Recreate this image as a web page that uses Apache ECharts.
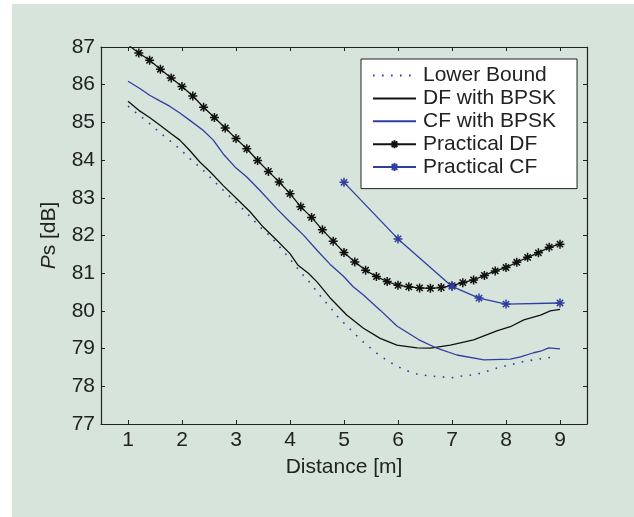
<!DOCTYPE html>
<html>
<head>
    <meta charset="utf-8">
    <title>Ps vs distance</title>
    <script src="https://cdn.jsdelivr.net/npm/echarts@6/dist/echarts.min.js"></script>
    <style>
        body { margin: 0; background: #fff; }
        #wrap { position: relative; width: 634px; height: 517px; }
        #panel { position: absolute; left: 12px; top: 4px; right: 0; bottom: 0; background: #d6e4db; }
        #main { position: absolute; left: 0; top: 0; width: 634px; height: 517px; }
    </style>
</head>
<body>
<div id="wrap">
    <div id="panel"></div>
    <div id="main"></div>
</div>
<script type="text/javascript">
    // tick labels
    var xTicks = [1, 2, 3, 4, 5, 6, 7, 8, 9];
    var yTicks = [77, 78, 79, 80, 81, 82, 83, 84, 85, 86, 87];

    var names = ['Lower Bound', 'DF with BPSK', 'CF with BPSK', 'Practical DF', 'Practical CF'];

    // Lower Bound (dotted)
    var lbX = [1.0, 1.17, 1.34, 1.51, 1.69, 1.86, 2.03, 2.19, 2.35, 2.51, 2.67, 2.83, 2.99, 3.15, 3.30, 3.46,
        3.63, 3.77, 3.92, 4.06, 4.20, 4.35, 4.49, 4.63, 4.77, 4.91, 5.07, 5.23, 5.39, 5.56, 5.73, 5.92,
        6.13, 6.34, 6.55, 6.78, 7.0, 7.22, 7.44, 7.65, 7.86, 8.08, 8.30, 8.51, 8.74, 8.95];
    var lbY = [85.43, 85.23, 85.04, 84.83, 84.61, 84.42, 84.20, 83.98, 83.79, 83.56, 83.33, 83.11, 82.89, 82.67, 82.44, 82.21,
        81.99, 81.76, 81.51, 81.27, 81.02, 80.78, 80.53, 80.28, 80.05, 79.80, 79.58, 79.35, 79.13, 78.93, 78.75, 78.58,
        78.43, 78.33, 78.28, 78.25, 78.23, 78.28, 78.31, 78.40, 78.50, 78.57, 78.65, 78.70, 78.75, 78.79];

    // DF with BPSK
    var dfX = [1.0, 1.2, 1.4, 1.6, 1.8, 1.96, 2.14, 2.33, 2.52, 2.76, 3.01, 3.26, 3.5, 3.75, 4.0, 4.15, 4.34,
        4.5, 4.74, 5.05, 5.36, 5.67, 5.98, 6.35, 6.6, 6.97, 7.4, 7.83, 8.08, 8.33, 8.64, 8.82, 9.0];
    var dfY = [85.56, 85.32, 85.13, 84.92, 84.70, 84.53, 84.26, 83.95, 83.69, 83.33, 82.98, 82.63, 82.23, 81.88, 81.52, 81.21, 81.00,
        80.77, 80.35, 79.89, 79.54, 79.27, 79.09, 79.02, 79.01, 79.09, 79.23, 79.47, 79.58, 79.76, 79.89, 80.00, 80.04];

    // CF with BPSK
    var cfX = [1.0, 1.22, 1.4, 1.59, 1.77, 1.96, 2.14, 2.39, 2.58, 2.76, 2.98, 3.2, 3.44, 3.75, 4.0, 4.25, 4.5,
        4.74, 4.99, 5.17, 5.36, 5.67, 5.98, 6.38, 6.72, 7.09, 7.59, 8.08, 8.27, 8.51, 8.64, 8.79, 9.0];
    var cfY = [86.09, 85.90, 85.72, 85.57, 85.43, 85.25, 85.06, 84.79, 84.53, 84.17, 83.82, 83.55, 83.20, 82.72, 82.36, 82.01, 81.61,
        81.24, 80.92, 80.64, 80.42, 80.02, 79.60, 79.24, 79.01, 78.83, 78.70, 78.72, 78.78, 78.89, 78.93, 79.02, 78.99];

    // Practical DF (stars)
    var pdfX = [1.0, 1.2, 1.4, 1.6, 1.8, 2.0, 2.2, 2.4, 2.6, 2.8, 3.0, 3.2, 3.4, 3.6, 3.8, 4.0, 4.2, 4.4, 4.6, 4.8,
        5.0, 5.2, 5.4, 5.6, 5.8, 6.0, 6.2, 6.4, 6.6, 6.8, 7.0, 7.2, 7.4, 7.6, 7.8, 8.0, 8.2, 8.4, 8.6, 8.8, 9.0];
    var pdfY = [87.06, 86.84, 86.65, 86.41, 86.18, 85.95, 85.70, 85.40, 85.13, 84.85, 84.57, 84.30, 83.99, 83.70, 83.42, 83.11,
        82.76, 82.48, 82.15, 81.85, 81.55, 81.30, 81.08, 80.91, 80.78, 80.68, 80.64, 80.61, 80.60, 80.62, 80.67,
        80.75, 80.82, 80.94, 81.06, 81.15, 81.29, 81.42, 81.54, 81.69, 81.77];

    // Practical CF (stars)
    var pcfX = [5, 6, 7, 7.5, 8, 9];
    var pcfY = [83.41, 81.91, 80.65, 80.34, 80.18, 80.21];

    function zip(xs, ys) {
        return xs.map(function (x, i) { return [x, ys[i]]; });
    }

    var font = "'Liberation Sans', Arial, Helvetica, sans-serif";
    var ink = '#222';
    var blue = '#2f3ea0';
    var star = 'path://M5,0L5,10M0,5L10,5M1.5,1.5L8.5,8.5M1.5,8.5L8.5,1.5';

    // legend entries: plain lines get no marker
    var legendData = names.map(function (n, i) {
        return i < 3 ? { name: n, itemStyle: { opacity: 0 } } : { name: n };
    });

    var myChart = echarts.init(document.getElementById('main'));
    myChart.setOption({
        animation: false,
        backgroundColor: 'transparent',
        grid: { left: 101, top: 47, right: 47, bottom: 93 },
        legend: {
            left: 361,
            top: 59,
            orient: 'vertical',
            padding: [6, 21, 11, 11],
            itemGap: 1.9,
            itemWidth: 43,
            itemHeight: 10,
            backgroundColor: '#fff',
            borderColor: ink,
            borderWidth: 1,
            borderRadius: 0,
            textStyle: { color: ink, fontSize: 21, fontFamily: font, padding: [0, 0, 0, 2] },
            data: legendData
        },
        xAxis: [{
            type: 'value',
            min: 0.5,
            max: 9.5,
            name: 'Distance [m]',
            nameLocation: 'middle',
            nameGap: 33,
            nameTextStyle: { color: ink, fontSize: 21, fontFamily: font },
            axisLine: { lineStyle: { color: ink, width: 1.2 } },
            axisTick: { inside: true, length: 4, customValues: xTicks, lineStyle: { color: ink } },
            axisLabel: { customValues: xTicks, color: ink, fontSize: 21, fontFamily: font, margin: 6 },
            splitLine: { show: false }
        }, {
            type: 'value',
            position: 'top',
            min: 0.5,
            max: 9.5,
            axisLine: { lineStyle: { color: ink, width: 1.2 } },
            axisTick: { inside: true, length: 4, customValues: xTicks, lineStyle: { color: ink } },
            axisLabel: { show: false },
            splitLine: { show: false }
        }],
        yAxis: [{
            type: 'value',
            min: yTicks[0],
            max: yTicks[yTicks.length - 1],
            interval: 1,
            name: '{i|P}s [dB]',
            nameLocation: 'middle',
            nameRotate: 90,
            nameGap: 41,
            nameTextStyle: {
                color: ink, fontSize: 21, fontFamily: font,
                rich: { i: { fontStyle: 'italic', color: ink, fontSize: 21, fontFamily: font } }
            },
            axisLine: { lineStyle: { color: ink, width: 1.2 } },
            axisTick: { inside: true, length: 4, lineStyle: { color: ink } },
            axisLabel: { color: ink, fontSize: 21, fontFamily: font, margin: 6 },
            splitLine: { show: false }
        }, {
            type: 'value',
            position: 'right',
            min: yTicks[0],
            max: yTicks[yTicks.length - 1],
            interval: 1,
            axisLine: { lineStyle: { color: ink, width: 1.2 } },
            axisTick: { inside: true, length: 4, lineStyle: { color: ink } },
            axisLabel: { show: false },
            splitLine: { show: false }
        }],
        series: [{
            name: names[0],
            type: 'line',
            symbol: 'none',
            color: blue,
            lineStyle: { color: blue, width: 1.6, type: [1.6, 7.4] },
            data: zip(lbX, lbY)
        }, {
            name: names[1],
            type: 'line',
            symbol: 'none',
            color: '#111',
            lineStyle: { color: '#111', width: 1.3 },
            data: zip(dfX, dfY)
        }, {
            name: names[2],
            type: 'line',
            symbol: 'none',
            color: blue,
            lineStyle: { color: blue, width: 1.3 },
            data: zip(cfX, cfY)
        }, {
            name: names[3],
            type: 'line',
            symbol: star,
            symbolSize: 9,
            color: '#111',
            lineStyle: { color: '#111', width: 1.3 },
            itemStyle: { color: '#111', borderColor: '#111', borderWidth: 1.5 },
            data: zip(pdfX, pdfY)
        }, {
            name: names[4],
            type: 'line',
            symbol: star,
            symbolSize: 9,
            color: blue,
            lineStyle: { color: blue, width: 1.3 },
            itemStyle: { color: blue, borderColor: blue, borderWidth: 1.5 },
            data: zip(pcfX, pcfY)
        }]
    });
</script>
</body>
</html>
